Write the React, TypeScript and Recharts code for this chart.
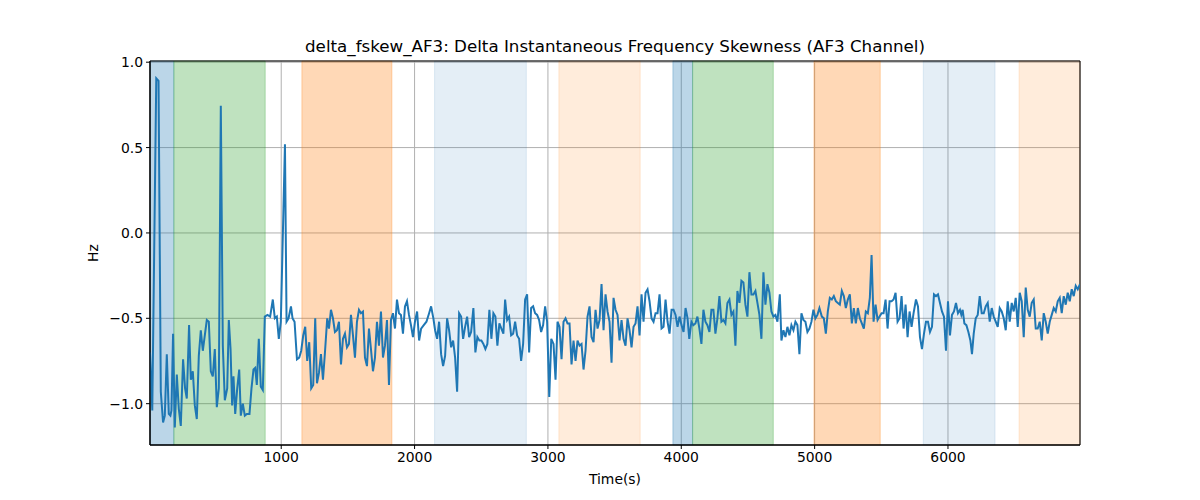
import React from "react";
import {
  LineChart,
  Line,
  XAxis,
  YAxis,
  CartesianGrid,
  ReferenceArea,
} from "recharts";

// time stamps (s) and delta skewness (Hz)
const timeSec = [
  16, 33, 63, 80, 97, 114, 127, 142, 157, 169,
  177, 189, 202, 217, 232, 247, 264, 279, 292, 309,
  322, 337, 352, 367, 382, 397, 412, 427, 442, 457,
  472, 487, 502, 517, 532, 547, 562, 577, 595, 607,
  620, 632, 642, 655, 670, 685, 697, 712, 727, 742,
  762, 777, 792, 805, 817, 832, 847, 862, 877, 897,
  917, 937, 952, 967, 982, 997, 1028, 1040, 1055, 1073,
  1085, 1100, 1118, 1135, 1150, 1165, 1180, 1195, 1210, 1225,
  1240, 1255, 1268, 1283, 1298, 1313, 1328, 1345, 1358, 1373,
  1388, 1403, 1418, 1433, 1448, 1463, 1478, 1493, 1508, 1523,
  1538, 1553, 1568, 1583, 1598, 1613, 1628, 1643, 1658, 1673,
  1688, 1703, 1718, 1733, 1748, 1763, 1778, 1793, 1808, 1823,
  1838, 1853, 1868, 1883, 1898, 1913, 1928, 1943, 1958, 1973,
  1988, 2003, 2019, 2034, 2049, 2069, 2089, 2109, 2124, 2141,
  2154, 2169, 2184, 2199, 2214, 2229, 2244, 2259, 2274, 2289,
  2304, 2319, 2334, 2349, 2364, 2379, 2394, 2409, 2424, 2441,
  2456, 2471, 2486, 2501, 2516, 2531, 2546, 2561, 2576, 2591,
  2606, 2621, 2636, 2651, 2666, 2679, 2694, 2709, 2724, 2739,
  2754, 2769, 2784, 2799, 2814, 2829, 2844, 2859, 2874, 2889,
  2904, 2919, 2934, 2949, 2964, 2979, 2994, 3010, 3025, 3042,
  3057, 3072, 3087, 3102, 3117, 3132, 3147, 3162, 3177, 3192,
  3207, 3222, 3237, 3252, 3267, 3282, 3297, 3312, 3327, 3342,
  3357, 3372, 3387, 3402, 3417, 3432, 3447, 3462, 3477, 3492,
  3507, 3522, 3537, 3552, 3567, 3582, 3597, 3612, 3627, 3642,
  3657, 3672, 3687, 3702, 3717, 3732, 3747, 3762, 3777, 3792,
  3807, 3822, 3837, 3852, 3867, 3882, 3897, 3912, 3927, 3942,
  3957, 3972, 3987, 4002, 4017, 4032, 4047, 4060, 4076, 4090,
  4106, 4121, 4136, 4151, 4166, 4181, 4196, 4211, 4226, 4241,
  4256, 4271, 4286, 4301, 4316, 4331, 4346, 4361, 4376, 4391,
  4406, 4421, 4436, 4451, 4466, 4481, 4496, 4511, 4526, 4541,
  4556, 4571, 4586, 4601, 4616, 4631, 4646, 4661, 4676, 4691,
  4706, 4721, 4739, 4751, 4766, 4781, 4796, 4811, 4826, 4841,
  4856, 4871, 4886, 4901, 4916, 4931, 4946, 4961, 4976, 4991,
  5006, 5021, 5036, 5054, 5069, 5084, 5099, 5114, 5129, 5144,
  5159, 5174, 5189, 5204, 5219, 5234, 5249, 5264, 5279, 5294,
  5309, 5324, 5339, 5354, 5369, 5384, 5399, 5414, 5427, 5442,
  5457, 5472, 5487, 5502, 5517, 5532, 5547, 5562, 5577, 5592,
  5607, 5622, 5637, 5652, 5667, 5682, 5697, 5712, 5727, 5742,
  5760, 5775, 5790, 5805, 5820, 5835, 5850, 5865, 5880, 5895,
  5910, 5925, 5940, 5955, 5970, 5985, 6000, 6015, 6030, 6045,
  6060, 6075, 6090, 6100, 6110, 6123, 6138, 6153, 6168, 6180,
  6193, 6208, 6223, 6238, 6253, 6268, 6283, 6298, 6313, 6328,
  6343, 6358, 6373, 6388, 6403, 6418, 6433, 6448, 6463, 6478,
  6493, 6508, 6523, 6538, 6553, 6568, 6583, 6598, 6613, 6628,
  6643, 6658, 6673, 6688, 6703, 6718, 6733, 6748, 6763, 6778,
  6793, 6808, 6823, 6838, 6853, 6868, 6883, 6898, 6913, 6928,
  6943, 6958, 6973, 6990,
];

const skewHz = [
  -0.70, -1.04, 0.905, 0.89, -0.93, -1.11, -1.07, -0.71, -1.06, -1.07,
  -1.04, -0.59, -1.14, -0.83, -1.03, -1.13, -0.74, -0.91, -0.97, -0.54,
  -0.86, -0.81, -1.01, -1.09, -0.72, -0.57, -0.69, -0.60, -0.51, -0.52,
  -0.81, -0.84, -0.68, -1.02, -0.91, 0.745, -0.66, -0.98, -0.91, -0.51,
  -0.68, -1.01, -0.84, -1.06, -0.91, -0.80, -1.07, -1.00, -1.07, -1.06,
  -1.06, -0.91, -0.80, -0.79, -0.89, -0.62, -0.90, -0.92, -0.49, -0.48,
  -0.49, -0.39, -0.50, -0.49, -0.62, -0.52, 0.52, -0.52, -0.50, -0.43,
  -0.50, -0.52, -0.74, -0.73, -0.69, -0.60, -0.55, -0.75, -0.64, -0.91,
  -0.89, -0.50, -0.88, -0.82, -0.71, -0.86, -0.70, -0.50, -0.56, -0.45,
  -0.50, -0.58, -0.57, -0.52, -0.77, -0.62, -0.59, -0.67, -0.65, -0.48,
  -0.60, -0.73, -0.52, -0.45, -0.47, -0.46, -0.73, -0.78, -0.56, -0.68,
  -0.81, -0.73, -0.52, -0.66, -0.46, -0.73, -0.66, -0.51, -0.89, -0.51,
  -0.47, -0.56, -0.39, -0.47, -0.48, -0.59, -0.43, -0.40, -0.48, -0.54,
  -0.61, -0.52, -0.46, -0.63, -0.56, -0.54, -0.52, -0.47, -0.43, -0.50,
  -0.57, -0.62, -0.52, -0.71, -0.78, -0.72, -0.50, -0.57, -0.67, -0.63,
  -0.73, -0.93, -0.47, -0.49, -0.62, -0.55, -0.49, -0.61, -0.58, -0.44,
  -0.70, -0.61, -0.63, -0.63, -0.65, -0.68, -0.65, -0.45, -0.62, -0.47,
  -0.49, -0.66, -0.53, -0.56, -0.59, -0.39, -0.51, -0.49, -0.60, -0.59,
  -0.52, -0.60, -0.62, -0.75, -0.65, -0.39, -0.36, -0.70, -0.44, -0.43,
  -0.47, -0.48, -0.51, -0.58, -0.54, -0.43, -0.52, -0.96, -0.62, -0.65,
  -0.86, -0.52, -0.55, -0.74, -0.52, -0.50, -0.53, -0.53, -0.77, -0.63,
  -0.75, -0.63, -0.66, -0.65, -0.80, -0.69, -0.49, -0.43, -0.61, -0.64,
  -0.45, -0.56, -0.51, -0.30, -0.57, -0.36, -0.46, -0.52, -0.76, -0.38,
  -0.45, -0.48, -0.63, -0.51, -0.62, -0.66, -0.50, -0.57, -0.67, -0.55,
  -0.53, -0.43, -0.60, -0.36, -0.52, -0.35, -0.33, -0.40, -0.50, -0.52,
  -0.47, -0.47, -0.36, -0.56, -0.55, -0.39, -0.52, -0.59, -0.45, -0.45,
  -0.48, -0.55, -0.49, -0.54, -0.58, -0.44, -0.50, -0.62, -0.52, -0.54,
  -0.53, -0.49, -0.56, -0.65, -0.45, -0.52, -0.54, -0.58, -0.45, -0.45,
  -0.59, -0.50, -0.37, -0.52, -0.51, -0.53, -0.41, -0.39, -0.48, -0.46,
  -0.66, -0.34, -0.41, -0.28, -0.29, -0.42, -0.49, -0.23, -0.36, -0.36,
  -0.34, -0.41, -0.48, -0.62, -0.23, -0.42, -0.30, -0.35, -0.46, -0.49,
  -0.48, -0.52, -0.36, -0.63, -0.57, -0.61, -0.55, -0.60, -0.54, -0.57,
  -0.52, -0.54, -0.71, -0.47, -0.51, -0.52, -0.58, -0.56, -0.52, -0.45,
  -0.50, -0.48, -0.44, -0.49, -0.50, -0.59, -0.46, -0.38, -0.39, -0.37,
  -0.40, -0.41, -0.42, -0.34, -0.37, -0.44, -0.39, -0.36, -0.53, -0.44,
  -0.53, -0.44, -0.50, -0.53, -0.56, -0.46, -0.47, -0.38, -0.13, -0.52,
  -0.42, -0.51, -0.49, -0.47, -0.47, -0.39, -0.56, -0.40, -0.40, -0.39,
  -0.35, -0.52, -0.50, -0.37, -0.56, -0.42, -0.61, -0.46, -0.55, -0.47,
  -0.39, -0.43, -0.61, -0.68, -0.59, -0.52, -0.52, -0.58, -0.55, -0.36,
  -0.37, -0.36, -0.41, -0.46, -0.49, -0.69, -0.40, -0.60, -0.48, -0.46,
  -0.41, -0.47, -0.45, -0.48, -0.45, -0.53, -0.54, -0.58, -0.63, -0.71,
  -0.59, -0.50, -0.48, -0.37, -0.47, -0.47, -0.43, -0.41, -0.52, -0.44,
  -0.49, -0.52, -0.55, -0.44, -0.46, -0.50, -0.57, -0.40, -0.52, -0.41,
  -0.46, -0.38, -0.55, -0.35, -0.40, -0.61, -0.32, -0.45, -0.49, -0.41,
  -0.39, -0.56, -0.56, -0.52, -0.63, -0.47, -0.52, -0.59, -0.52, -0.48,
  -0.44, -0.46, -0.40, -0.38, -0.47, -0.37, -0.42, -0.35, -0.40, -0.33,
  -0.37, -0.31, -0.33, -0.30,
];

// shaded state bands
const bandStart = [16, 195, 1155, 2150, 3082, 3937, 4085, 4995, 5815, 6533];
const bandEnd = [195, 880, 1830, 2838, 3692, 4085, 4690, 5492, 6353, 6990];
const bandColor = [
  "#1f77b4", "#2ca02c", "#ff7f0e", "#1f77b4", "#ff7f0e",
  "#1f77b4", "#2ca02c", "#ff7f0e", "#1f77b4", "#ff7f0e",
];
const bandAlpha = [0.3, 0.3, 0.3, 0.12, 0.15, 0.3, 0.3, 0.3, 0.12, 0.15];

const xTicks = [1000, 2000, 3000, 4000, 5000, 6000];
const yTicks = [-1, -0.5, 0, 0.5, 1];

const X_MIN = 16;
const X_MAX = 6990;
const Y_MIN = -1.242;
const Y_MAX = 1.007;

const data = timeSec.map((t, i) => ({ t, v: skewHz[i] }));

const font = "'DejaVu Sans', sans-serif";
const tickStyle = { fontSize: 13.9, fill: "#000", fontFamily: font };

const fmtY = (v: number) => {
  const s = Math.abs(v).toFixed(1);
  return v < 0 ? "\u2212" + s : s;
};

export default function App() {
  return (
    <div
      style={{
        position: "absolute",
        left: 0,
        top: 0,
        width: 1200,
        height: 500,
        background: "#fff",
        fontFamily: font,
      }}
    >
      <div
        style={{
          position: "absolute",
          top: 36,
          left: 150,
          width: 930,
          textAlign: "center",
          fontSize: 16.7,
          color: "#000",
        }}
      >
        delta_fskew_AF3: Delta Instantaneous Frequency Skewness (AF3 Channel)
      </div>
      <div
        style={{
          position: "absolute",
          top: 471,
          left: 150,
          width: 930,
          textAlign: "center",
          fontSize: 13.9,
          color: "#000",
        }}
      >
        Time(s)
      </div>
      <div
        style={{
          position: "absolute",
          left: 93,
          top: 253,
          transform: "translate(-50%, -50%) rotate(-90deg)",
          fontSize: 13.9,
          color: "#000",
        }}
      >
        Hz
      </div>
      <LineChart
        width={1200}
        height={500}
        data={data}
        margin={{ top: 61, right: 120, bottom: 30, left: 95 }}
      >
        {bandStart.map((s, i) => (
          <ReferenceArea
            key={i}
            x1={s}
            x2={bandEnd[i]}
            y1={Y_MIN}
            y2={Y_MAX}
            fill={bandColor[i]}
            fillOpacity={bandAlpha[i]}
            stroke={bandColor[i]}
            strokeOpacity={bandAlpha[i]}
            ifOverflow="visible"
          />
        ))}
        <CartesianGrid stroke="#b0b0b0" strokeWidth={1} />
        <XAxis
          dataKey="t"
          type="number"
          domain={[X_MIN, X_MAX]}
          ticks={xTicks}
          allowDataOverflow
          height={25}
          tick={tickStyle}
          tickSize={4}
          tickMargin={3}
          stroke="#000"
          tickLine={{ stroke: "#000" }}
        />
        <YAxis
          type="number"
          domain={[Y_MIN, Y_MAX]}
          ticks={yTicks}
          allowDataOverflow
          width={55}
          tick={tickStyle}
          tickSize={4}
          tickMargin={3}
          tickFormatter={fmtY}
          stroke="#000"
          tickLine={{ stroke: "#000" }}
        />
        <Line
          dataKey="v"
          type="linear"
          stroke="#1f77b4"
          strokeWidth={2}
          dot={false}
          isAnimationActive={false}
        />
        <ReferenceArea
          x1={X_MIN}
          x2={X_MAX}
          y1={Y_MIN}
          y2={Y_MAX}
          fill="none"
          stroke="#000"
          strokeWidth={1}
          ifOverflow="visible"
        />
      </LineChart>
    </div>
  );
}
